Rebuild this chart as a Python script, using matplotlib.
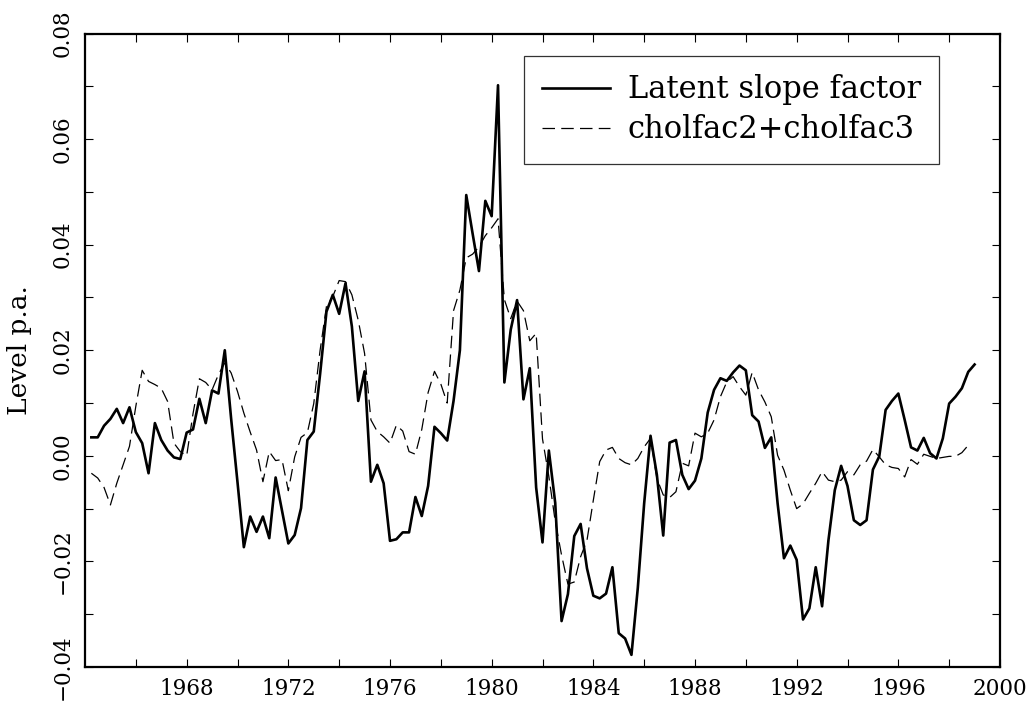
import numpy as np
import matplotlib
matplotlib.use("Agg")
import matplotlib.pyplot as plt
from matplotlib.ticker import FixedLocator, FixedFormatter, MultipleLocator

# quarterly observations, first quarter plotted at 1964.25
start_year = 1964.25

slope_factor = [
    0.0035, 0.0035, 0.0057, 0.0070, 0.0089, 0.0062, 0.0092, 0.0045, 0.0024, -0.0033,
    0.0062, 0.0030, 0.0010, -0.0003, -0.0006, 0.0044, 0.0050, 0.0108, 0.0062, 0.0124,
    0.0118, 0.0200, 0.0070, -0.0050, -0.0173, -0.0115, -0.0144, -0.0115, -0.0156, -0.0041,
    -0.0103, -0.0166, -0.0150, -0.0099, 0.0030, 0.0046, 0.0155, 0.0273, 0.0305, 0.0269,
    0.0327, 0.0245, 0.0104, 0.0160, -0.0049, -0.0017, -0.0052, -0.0161, -0.0158, -0.0145,
    -0.0145, -0.0078, -0.0114, -0.0057, 0.0055, 0.0043, 0.0029, 0.0104, 0.0200, 0.0494,
    0.0421, 0.0350, 0.0483, 0.0454, 0.0702, 0.0139, 0.0239, 0.0295, 0.0107, 0.0166,
    -0.0060, -0.0164, 0.0010, -0.0089, -0.0313, -0.0262, -0.0152, -0.0129, -0.0213, -0.0265,
    -0.0270, -0.0261, -0.0211, -0.0336, -0.0346, -0.0377, -0.0250, -0.0090, 0.0038, -0.0036,
    -0.0151, 0.0025, 0.0030, -0.0036, -0.0063, -0.0047, -0.0005, 0.0082, 0.0125, 0.0147,
    0.0142, 0.0158, 0.0171, 0.0162, 0.0077, 0.0065, 0.0015, 0.0035, -0.0090, -0.0194,
    -0.0170, -0.0197, -0.0310, -0.0289, -0.0211, -0.0285, -0.0160, -0.0065, -0.0019, -0.0057,
    -0.0122, -0.0131, -0.0122, -0.0026, -0.0001, 0.0087, 0.0104, 0.0118, 0.0068, 0.0016,
    0.0010, 0.0034, 0.0005, -0.0005, 0.0033, 0.0099, 0.0112, 0.0128, 0.0159, 0.0173,
]

cholfac = [
    -0.0033, -0.0042, -0.0060, -0.0093, -0.0052, -0.0017, 0.0018, 0.0094, 0.0162, 0.0141,
    0.0135, 0.0128, 0.0103, 0.0024, 0.0008, 0.0000, 0.0080, 0.0146, 0.0139, 0.0125,
    0.0154, 0.0176, 0.0157, 0.0122, 0.0081, 0.0045, 0.0011, -0.0049, 0.0008, -0.0009,
    -0.0007, -0.0066, -0.0002, 0.0035, 0.0044, 0.0099, 0.0200, 0.0283, 0.0302, 0.0332,
    0.0330, 0.0305, 0.0257, 0.0194, 0.0068, 0.0046, 0.0036, 0.0024, 0.0058, 0.0047,
    0.0008, 0.0003, 0.0050, 0.0120, 0.0160, 0.0136, 0.0100, 0.0275, 0.0314, 0.0375,
    0.0382, 0.0396, 0.0417, 0.0432, 0.0449, 0.0296, 0.0260, 0.0293, 0.0275, 0.0218,
    0.0232, 0.0032, -0.0039, -0.0124, -0.0188, -0.0243, -0.0239, -0.0191, -0.0160, -0.0084,
    -0.0011, 0.0011, 0.0016, -0.0005, -0.0013, -0.0017, -0.0005, 0.0017, 0.0033, -0.0043,
    -0.0074, -0.0079, -0.0068, -0.0014, -0.0019, 0.0043, 0.0036, 0.0043, 0.0068, 0.0112,
    0.0140, 0.0150, 0.0131, 0.0115, 0.0158, 0.0125, 0.0102, 0.0074, 0.0001, -0.0027,
    -0.0065, -0.0100, -0.0091, -0.0071, -0.0052, -0.0030, -0.0046, -0.0049, -0.0046, -0.0030,
    -0.0036, -0.0017, -0.0010, 0.0012, -0.0002, -0.0017, -0.0022, -0.0024, -0.0040, -0.0007,
    -0.0016, 0.0003, -0.0001, -0.0005, -0.0003, -0.0001, -0.0001, 0.0006, 0.0020,
]

year_ticks = [1968, 1972, 1976, 1980, 1984, 1988, 1992, 1996, 2000]
level_ticks = [-0.04, -0.02, 0.00, 0.02, 0.04, 0.06, 0.08]

x_slope = start_year + 0.25 * np.arange(len(slope_factor))
x_chol = start_year + 0.25 * np.arange(len(cholfac))

plt.rcParams['font.family'] = ['DejaVu Serif']

fig = plt.figure(figsize=(10.34, 7.07), dpi=100)
ax = fig.add_axes([85 / 1034, 1 - 667 / 707, 915 / 1034, 633.5 / 707])

ax.plot(x_slope, slope_factor, color='black', lw=1.9, label='Latent slope factor')
ax.plot(x_chol, cholfac, color='black', lw=0.9, linestyle=(0, (10, 5)),
        label='cholfac2+cholfac3')

ax.set_xlim(1964, 2000)
ax.set_ylim(-0.04, 0.08)

# x ticks every 2 years, labels every 4
minor_years = list(range(1966, 2001, 2))
ax.xaxis.set_major_locator(FixedLocator(minor_years))
ax.xaxis.set_major_formatter(FixedFormatter(
    [str(y) if y in year_ticks else '' for y in minor_years]))

ax.yaxis.set_major_locator(FixedLocator(level_ticks))
ax.yaxis.set_major_formatter(FixedFormatter(
    ['%.2f' % v if v >= 0 else '\u2212%.2f' % abs(v) for v in level_ticks]))
ax.yaxis.set_minor_locator(MultipleLocator(0.01))

ax.tick_params(axis='both', which='both', direction='in', top=True, right=True,
               length=6, width=0.8, labelsize=15.5)
ax.tick_params(axis='x', pad=8)
ax.tick_params(axis='y', pad=8)
for lab in ax.get_yticklabels():
    lab.set_rotation(90)
    lab.set_va('center')

for sp in ax.spines.values():
    sp.set_linewidth(1.6)

ax.set_ylabel('Level p.a.', fontsize=19, labelpad=14)

leg = ax.legend(loc='upper left', bbox_to_anchor=(524 / 1034, 1 - 56 / 707),
                bbox_transform=fig.transFigure, borderaxespad=0, fontsize=22,
                handlelength=2.2, handletextpad=0.6, borderpad=0.6,
                labelspacing=0.3, fancybox=False, framealpha=1)
leg.get_frame().set_edgecolor('#333333')
leg.get_frame().set_linewidth(0.9)

fig.savefig('out.png', dpi=100)
